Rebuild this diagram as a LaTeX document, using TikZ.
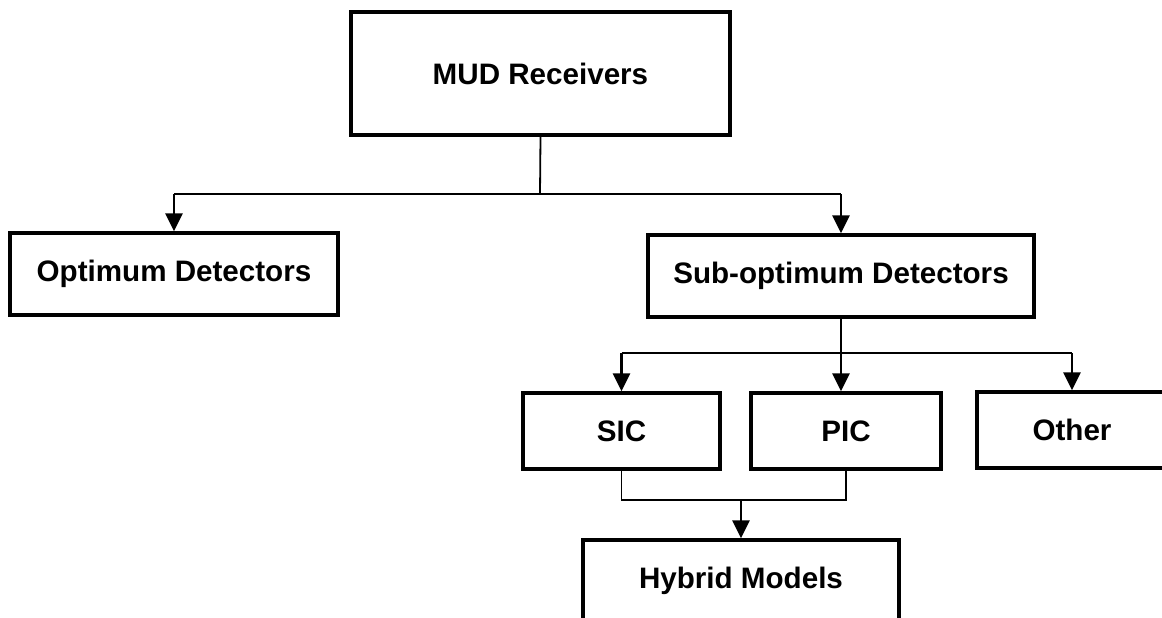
\documentclass[tikz,border=0pt]{standalone}
\usepackage{fontspec}
\setmainfont{Liberation Sans}
\usetikzlibrary{arrows.meta}
\begin{document}
\begin{tikzpicture}[x=0.5pt,y=-0.5pt,
  box/.style={draw=black, line width=1.7pt, inner sep=0pt, align=center,
    font=\bfseries\fontsize{14.8}{17}\selectfont},
  bus/.style={draw=black, line width=0.9pt},
  arr/.style={draw=black, line width=1.3pt, -{Triangle[width=8.5pt,length=9pt]}}
]
\fill[white] (0,0) rectangle (1162,617);
\clip (0,0) rectangle (1162,617);

\node[box, minimum width=189.5pt, minimum height=61.5pt] (mud) at (540.5,73.5) {MUD Receivers};
\node[box, minimum width=164pt, minimum height=41pt] (opt) at (174,274) {Optimum Detectors};
\node[box, minimum width=193pt, minimum height=41pt] (sub) at (841,276) {Sub-optimum Detectors};
\node[box, minimum width=98.5pt, minimum height=38pt] (sic) at (621.5,431) {SIC};
\node[box, minimum width=95pt, minimum height=38pt] (pic) at (846,431) {PIC};
\node[box, minimum width=95pt, minimum height=38pt] (oth) at (1072,430) {Other};
\node[box, minimum width=158pt, minimum height=41pt] (hyb) at (741,581) {Hybrid Models};

\coordinate (j1) at (540,194);
\coordinate (j2) at (841,353);
\coordinate (j3) at (741,500);

% level 1
\draw[bus] (mud.south) -- (j1);
\draw[bus] (opt.north |- j1) -- (sub.north |- j1);
\draw[arr] (opt.north |- j1) -- (opt.north);
\draw[arr] (sub.north |- j1) -- (sub.north);

% level 2
\draw[arr] (sub.south) -- (sub.south |- pic.north);
\draw[bus] (sic.north |- j2) -- (oth.north |- j2);
\draw[arr] (sic.north |- j2) -- (sic.north);
\draw[arr] (oth.north |- j2) -- (oth.north);

% level 3
\draw[bus] (sic.south) |- (j3) -| (pic.south);
\draw[arr] (j3) -- (hyb.north);
\end{tikzpicture}
\end{document}
